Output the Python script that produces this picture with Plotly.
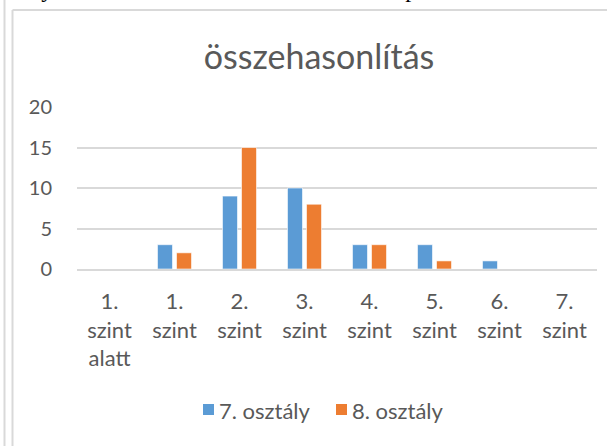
import plotly.graph_objects as go

categories = ["1.<br>szint<br>alatt", "1.<br>szint", "2.<br>szint", "3.<br>szint",
              "4.<br>szint", "5.<br>szint", "6.<br>szint", "7.<br>szint"]
osztaly7 = [0, 3, 9, 10, 3, 3, 1, 0]
osztaly8 = [0, 2, 15, 8, 3, 1, 0, 0]
series_names = ["7. osztály", "8. osztály"]
series_colors = ["#5B9BD5", "#ED7D31"]
y_ticks = [0, 5, 10, 15, 20]
title_text = "összehasonlítás"
top_text = "ményeik összehasonlítása azonos tanári repertoárral"

W, H = 607, 446
L, R, T, B = 77, 10, 107, 177
pw, ph = W - L - R, H - T - B

def px(x):
    return (x - L) / pw

def py(y):
    return (H - B - y) / ph

TXT = "#595959"
FONT = "Lato"

fig = go.Figure()
for name, vals, col in zip(series_names, [osztaly7, osztaly8], series_colors):
    fig.add_trace(go.Bar(x=categories, y=vals, name=name, showlegend=False,
                         marker=dict(color=col, line=dict(color="white", width=0.6))))

shapes = [
    dict(type="line", xref="paper", yref="paper", x0=px(4.5), x1=px(4.5), y0=py(-10), y1=py(460),
         line=dict(color="#D9D9D9", width=2)),
    dict(type="line", xref="paper", yref="paper", x0=px(12.5), x1=px(12.5), y0=py(10), y1=py(460),
         line=dict(color="#D9D9D9", width=2)),
    dict(type="line", xref="paper", yref="paper", x0=px(12.5), x1=px(620), y0=py(10), y1=py(10),
         line=dict(color="#D9D9D9", width=2)),
]
annotations = [dict(text=top_text, xref="paper", yref="paper", x=px(-2), xanchor="left",
                    y=py(-26), yanchor="top", showarrow=False,
                    font=dict(family="Liberation Serif", size=24, color="black"))]

# manual legend (Excel style: small square right next to the label)
legend_sq_x = [203, 336]
for name, col, sx in zip(series_names, series_colors, legend_sq_x):
    shapes.append(dict(type="rect", xref="paper", yref="paper", x0=px(sx), x1=px(sx + 11),
                       y0=py(404), y1=py(415), fillcolor=col, line=dict(width=0)))
    annotations.append(dict(text=name, xref="paper", yref="paper", x=px(sx + 14), xanchor="left",
                            y=py(410), yanchor="middle", showarrow=False,
                            font=dict(family=FONT, size=22, color=TXT)))

fig.update_layout(
    width=W, height=H,
    margin=dict(l=L, r=R, t=T, b=B, autoexpand=False),
    paper_bgcolor="white", plot_bgcolor="white",
    barmode="group", bargap=0.415, bargroupgap=0.21,
    font=dict(family=FONT, color=TXT, size=20),
    title=dict(text=title_text, x=319 / W, xanchor="center", y=1 - 57 / H, yanchor="middle",
               font=dict(family=FONT, size=34, color=TXT)),
    showlegend=False,
    shapes=shapes,
    annotations=annotations,
)
fig.update_yaxes(range=[0, 20], tickvals=y_ticks, showgrid=True, gridcolor="#D9D9D9", gridwidth=1.5,
                 zeroline=False, showline=False, ticks="outside", ticklen=20, tickcolor="white",
                 tickfont=dict(family=FONT, size=20, color=TXT), fixedrange=True)
fig.update_xaxes(showgrid=False, showline=True, linecolor="#D9D9D9", linewidth=1.5,
                 ticks="outside", ticklen=12, tickcolor="white",
                 tickfont=dict(family=FONT, size=22, color=TXT), tickangle=0)

fig.write_html("out.html", config={"displayModeBar": False},
               post_script="document.body.style.margin='0';")
